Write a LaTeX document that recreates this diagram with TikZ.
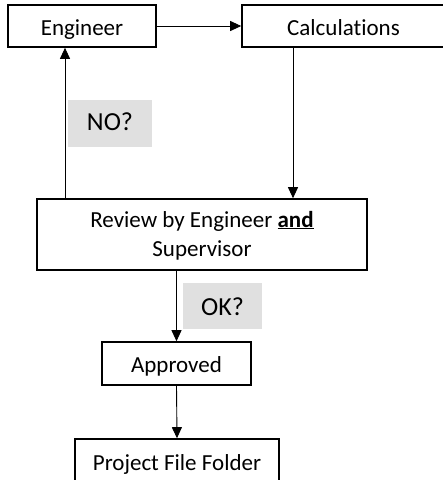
\documentclass[tikz,border=0pt]{standalone}
\usepackage{fontspec}
\setmainfont{Carlito}[Ligatures=NoCommon]
\usetikzlibrary{arrows.meta}
\begin{document}
\begin{tikzpicture}[x=1pt,y=-1pt,
  box/.style={draw=black,line width=1.6pt,inner sep=0pt,font=\fontsize{23}{29}\selectfont,text=black,text height=18pt,text depth=0pt},
  tag/.style={fill=black!12,inner sep=0pt,font=\fontsize{26}{30}\selectfont,text=black,text height=17pt,text depth=0pt},
  arr/.style={line width=0.9pt,-{Triangle[length=11pt,width=10pt]}}]
\useasboundingbox (0,0) rectangle (443,480);
\clip (0,0) rectangle (443,480);
\node[box,minimum width=148pt,minimum height=42pt] (eng) at (82,26) {Engineer};
\node[box,minimum width=203pt,minimum height=42pt] (calc) at (343.5,26) {Calculations};
\node[box,minimum width=330pt,minimum height=71pt,align=center,text height=43pt] (rev) at (202,234.5) {Review by Engineer \underline{\textbf{and}}\\Supervisor};
\node[box,minimum width=149pt,minimum height=43pt] (app) at (176.5,363.5) {Approved};
\node[box,minimum width=204pt,minimum height=44pt] (proj) at (177,461) {Project File Folder};
\node[tag,minimum width=84pt,minimum height=47pt,text height=14pt] (no) at (110,123.5) {NO?};
\node[tag,minimum width=79pt,minimum height=46pt,text height=19pt] (ok) at (222.5,306) {OK?};
\coordinate (xl) at (65,0);
\coordinate (xr) at (293,0);
\draw[arr] (eng.east) -- (calc.west);
\draw[arr] (calc.south -| xr) -- (rev.north -| xr);
\draw[arr] (rev.north -| xl) -- (eng.south -| xl);
\draw[arr] (rev.south -| app.north) -- (app.north);
\draw[arr] (app.south) -- (proj.north);
\end{tikzpicture}
\end{document}
